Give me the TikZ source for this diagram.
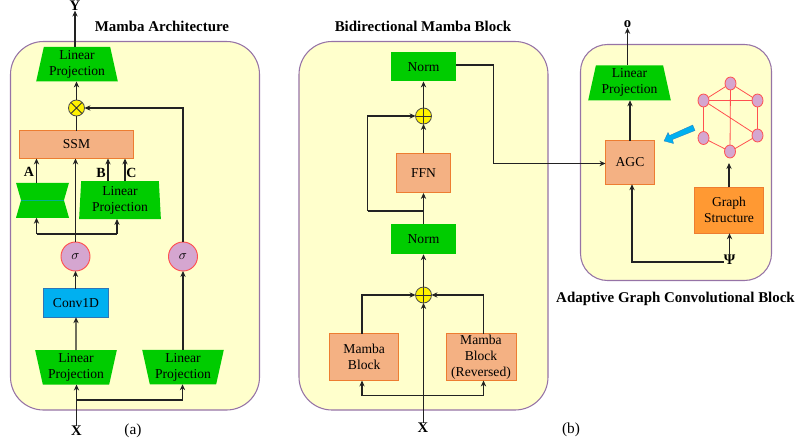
\documentclass[tikz,border=0pt]{standalone}
\usepackage{fontspec}
\setmainfont{Liberation Serif}
\usetikzlibrary{shapes.geometric,arrows.meta}
\definecolor{panelfill}{HTML}{FFFFCC}
\definecolor{panelline}{HTML}{9673A6}
\definecolor{greenfill}{HTML}{00CC00}
\definecolor{salmonfill}{HTML}{F4B183}
\definecolor{salmonline}{HTML}{ED7D31}
\definecolor{bluefill}{HTML}{00B0F0}
\definecolor{blueline}{HTML}{2E75B6}
\definecolor{orangefill}{HTML}{FF9933}
\definecolor{sigmafill}{HTML}{D5A6D0}
\definecolor{sigmaline}{HTML}{FF5050}
\definecolor{wire}{HTML}{222222}
\definecolor{waist}{HTML}{00B08A}
\tikzset{
  x=0.75pt,y=-0.75pt,
  sz/.style 2 args={minimum width=#1*0.75pt,minimum height=#2*0.75pt,inner sep=0pt,outer sep=0pt},
  lbl/.style={font=\fontsize{10.2pt}{12pt}\selectfont,align=center,text=black},
  panel/.style={draw=panelline,fill=panelfill,line width=0.8pt,rounded corners=#1*0.75pt},
  greenbox/.style={lbl,fill=greenfill},
  salmonbox/.style={lbl,fill=salmonfill,draw=salmonline,line width=0.7pt},
  wideTop/.style={lbl,trapezium,fill=greenfill,trapezium stretches=true,trapezium angle=77,shape border rotate=180},
  wideBottom/.style={lbl,trapezium,fill=greenfill,trapezium stretches=true,trapezium angle=77},
  sigmanode/.style={circle,fill=sigmafill,draw=sigmaline,line width=0.7pt,minimum size=29*0.75pt,inner sep=0pt,outer sep=0pt,font=\fontsize{10pt}{12pt}\selectfont},
  plusnode/.style={circle,fill=yellow,draw=black!70,line width=0.6pt,minimum size=16*0.75pt,inner sep=0pt,outer sep=0pt,
    path picture={\draw[black!80,line width=0.6pt] (path picture bounding box.north)--(path picture bounding box.south) (path picture bounding box.west)--(path picture bounding box.east);}},
  timesnode/.style={circle,fill=yellow,draw=black!70,line width=0.6pt,minimum size=16*0.75pt,inner sep=0pt,outer sep=0pt,
    path picture={\draw[black!80,line width=0.6pt] (path picture bounding box.north west)--(path picture bounding box.south east) (path picture bounding box.south west)--(path picture bounding box.north east);}},
  gnode/.style={ellipse,fill=sigmafill,draw=sigmaline,line width=0.6pt,minimum width=11*0.75pt,minimum height=13*0.75pt,inner sep=0pt,outer sep=0pt},
  gedge/.style={draw=sigmaline,line width=0.6pt},
  wirearrow/.style={draw=wire,line width=0.95pt,-{Stealth[length=4.5pt,width=4pt]}},
  wireline/.style={draw=wire,line width=0.95pt},
  titlelbl/.style={font=\fontsize{11.2pt}{13pt}\selectfont\bfseries,text=black},
  iolbl/.style={font=\fontsize{11pt}{13pt}\selectfont\bfseries,text=black,inner sep=0pt},
  caplbl/.style={font=\fontsize{11.5pt}{13pt}\selectfont,text=black,inner sep=0pt},
  letterlbl/.style={font=\fontsize{10.5pt}{12pt}\selectfont\bfseries,text=black,inner sep=0pt},
}
\begin{document}
\begin{tikzpicture}
\useasboundingbox (0,0) rectangle (798,446);
% panels
\path[panel=33] (10.5,41.5) rectangle (259.5,410);
\path[panel=33] (299,41.5) rectangle (548,410);
\path[panel=27] (580.5,44.5) rectangle (771.5,280.5);
% titles
\node[titlelbl] (t1) at (162,26) {Mamba Architecture};
\node[titlelbl] (t2) at (423,26) {Bidirectional Mamba Block};
\node[titlelbl] (t3) at (675.5,298.5) {Adaptive Graph Convolutional Block};
\node[caplbl] (capa) at (133,431) {(a)};
\node[caplbl] (capb) at (571,430) {(b)};
% panel a
\node[wideBottom,sz={82}{34.5}] (lpTop) at (77,64.2) {Linear\\Projection};
\node[timesnode] (times) at (76.5,108) {};
\node[salmonbox,sz={114}{28}] (ssm) at (76.5,144.5) {SSM};
\node[wideTop,sz={53}{17.5},trapezium angle=76] (hgA) at (42.5,191.5) {\phantom{.}};
\node[wideBottom,sz={53}{17.5},trapezium angle=76] (hgB) at (42.5,209) {\phantom{.}};
\draw[waist,line width=0.4pt] (21,200.2) -- (64,200.2);
\node[wideBottom,sz={82}{38},trapezium angle=87] (lpB) at (120,200) {Linear\\Projection};
\node[letterlbl] (la) at (29,172) {A};
\node[letterlbl] (lb) at (101,173) {B};
\node[letterlbl] (lc) at (131.5,173) {C};
\node[sigmanode] (sig1) at (75.5,256.5) {$\sigma$};
\node[sigmanode] (sig2) at (183,256.5) {$\sigma$};
\node[lbl,fill=bluefill,draw=blueline,line width=0.6pt,sz={65}{28.5}] (conv) at (76,303) {Conv1D};
\node[wideTop,sz={82}{34.5}] (lp3) at (76,367.3) {Linear\\Projection};
\node[wideTop,sz={82}{34.5}] (lp4) at (183,367) {Linear\\Projection};
\node[iolbl] (xa) at (76.5,431) {X};
\node[iolbl] (ya) at (75,5.5) {Y};
\coordinate (splitAl) at (36.5,234);
\coordinate (splitAr) at (117,234);
\coordinate (splitX) at (76.5,400);
\coordinate (cornerB) at (183,108);
\coordinate (splitXr) at (182.5,400);
\coordinate (outA) at (36.5,183);
\coordinate (outB) at (108,181);
\coordinate (outC) at (125,181);
% panel a connectors
\draw[wirearrow] (lpTop.north -| ya.south) -- (ya.south);
\draw[wirearrow] (times.north) -- (lpTop.south -| times.north);
\draw[wireline] (ssm.north) -- (times.south);
\draw[wirearrow] (sig2.north) -- (cornerB) -- (times.east);
\draw[wirearrow] (outA) -- (ssm.south -| outA);
\draw[wirearrow] (outB) -- (ssm.south -| outB);
\draw[wirearrow] (outC) -- (ssm.south -| outC);
\draw[wirearrow] (sig1.north) -- (ssm.south -| sig1.north);
\draw[wireline] (splitAl) -- (splitAr);
\draw[wirearrow] (splitAl) -- (hgB.south -| splitAl);
\draw[wirearrow] (splitAr) -- (lpB.south -| splitAr);
\draw[wirearrow] (conv.north -| sig1.south) -- (sig1.south);
\draw[wirearrow] (lp3.north) -- (conv.south);
\draw[wirearrow] (lp4.north -| sig2.south) -- (sig2.south);
\draw[wirearrow] (xa.north) -- (lp3.south -| xa.north);
\draw[wirearrow] (splitX) -- (splitXr) -- (lp4.south -| splitXr);
% panel b
\node[greenbox,sz={65}{29.5}] (norm1) at (423.5,66.7) {Norm};
\node[plusnode] (plus1) at (423.5,116) {};
\node[salmonbox,sz={54}{39.5}] (ffn) at (423.5,173.2) {FFN};
\node[greenbox,sz={65}{30.5}] (norm2) at (423.5,239) {Norm};
\node[plusnode] (plus2) at (423.5,295) {};
\node[salmonbox,sz={69.5}{47}] (mb1) at (364.2,357) {Mamba\\Block};
\node[salmonbox,sz={70}{47}] (mb2) at (481,357) {Mamba\\Block\\(Reversed)};
\node[iolbl] (xb) at (423,428) {X};
\coordinate (loopA) at (423.5,211);
\coordinate (loopB) at (367.5,211);
\coordinate (loopC) at (367.5,116);
\coordinate (splitBl) at (362,395.7);
\coordinate (splitBr) at (483.5,395.7);
\coordinate (mbLup) at (362,295);
\coordinate (mbRup) at (483.5,295);
\coordinate (kneeA) at (493.5,65);
\coordinate (kneeB) at (493.5,163.5);
\coordinate (agcIn) at (632,262);
% panel b connectors
\draw[wirearrow] (plus1.north) -- (norm1.south);
\draw[wirearrow] (ffn.north) -- (plus1.south);
\draw[wirearrow] (norm2.north) -- (ffn.south);
\draw[wireline] (loopA) -- (loopB);
\draw[wirearrow] (loopB) -- (loopC) -- (plus1.west);
\draw[wirearrow] (plus2.north) -- (norm2.south);
\draw[wirearrow] (xb.north -| plus2.south) -- (plus2.south);
\draw[wirearrow] (mb1.north -| mbLup) -- (mbLup) -- (plus2.west);
\draw[wirearrow] (mb2.north -| mbRup) -- (mbRup) -- (plus2.east);
\draw[wireline] (splitBl) -- (splitBr);
\draw[wirearrow] (splitBl) -- (mb1.south -| splitBl);
\draw[wirearrow] (splitBr) -- (mb2.south -| splitBr);
% panel c
\node[wideBottom,sz={83}{35}] (lpC) at (629.5,82.8) {Linear\\Projection};
\node[salmonbox,sz={49}{43.5}] (agc) at (630,162.5) {AGC};
\node[lbl,fill=orangefill,draw=salmonline,line width=0.7pt,sz={69.5}{46}] (gs) at (729,210.3) {Graph\\Structure};
\node[iolbl] (oc) at (627.5,24) {o};
\node[iolbl] (psi) at (729.5,260) {Ψ};
\node[gnode] (g1) at (730.5,83.5) {};
\node[gnode] (g2) at (703.5,100.5) {};
\node[gnode] (g3) at (757.5,100.5) {};
\node[gnode] (g4) at (703.5,138) {};
\node[gnode] (g5) at (757.5,135.5) {};
\node[gnode] (g6) at (730,151.5) {};
\coordinate (gsTip) at (729,163);
\draw[gedge] (g1)--(g2) (g1)--(g3) (g2)--(g3) (g2)--(g4) (g3)--(g5) (g4)--(g6) (g5)--(g6) (g1)--(g6) (g2)--(g5);
\path[fill=bluefill,draw=blueline,line width=0.2pt] (692.7,125) -- (695,130.5) -- (672.5,139.5) -- (673.5,143.5) -- (664,141) -- (668,132.5) -- (669.5,135.5) -- cycle;
% panel c connectors
\draw[wirearrow] (lpC.north -| oc.south) -- (oc.south);
\draw[wirearrow] (agc.north) -- (lpC.south -| agc.north);
\draw[wireline] (norm1.east |- kneeA) -- (kneeA) -- (kneeB);
\draw[wirearrow] (kneeB) -- (agc.west |- kneeB);
\draw[wirearrow] (gs.north) -- (gsTip);
\draw[wirearrow] (psi.north) -- (gs.south -| psi.north);
\draw[wirearrow] (psi.west |- agcIn) -- (agcIn) -- (agc.south -| agcIn);
\end{tikzpicture}
\end{document}
